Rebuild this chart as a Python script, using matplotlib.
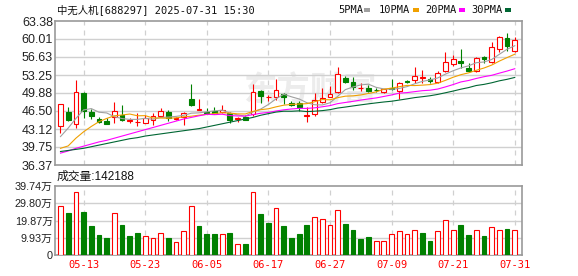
import matplotlib
matplotlib.use('Agg')
import matplotlib.pyplot as plt
from matplotlib.patches import Rectangle
import numpy as np

# ---------------- data ----------------
dates = ['05-08', '05-09', '05-12', '05-13', '05-14', '05-15', '05-16', '05-19', '05-20', '05-21',
         '05-22', '05-23', '05-26', '05-27', '05-28', '05-29', '05-30', '06-03', '06-04', '06-05',
         '06-06', '06-09', '06-10', '06-11', '06-12', '06-13', '06-16', '06-17', '06-18', '06-19',
         '06-20', '06-23', '06-24', '06-25', '06-26', '06-27', '06-30', '07-01', '07-02', '07-03',
         '07-04', '07-07', '07-08', '07-09', '07-10', '07-11', '07-14', '07-15', '07-16', '07-17',
         '07-18', '07-21', '07-22', '07-23', '07-24', '07-25', '07-28', '07-29', '07-30', '07-31']

opens = [43.69, 46.25, 44.00, 49.94, 46.37, 45.00, 44.60, 45.30, 45.75, 44.60,
         44.40, 44.30, 44.80, 45.60, 46.25, 44.95, 45.44, 48.75, 46.70, 46.40,
         46.56, 46.37, 46.10, 45.00, 45.44, 45.87, 50.25, 49.05, 49.19, 49.63,
         48.06, 47.94, 45.60, 45.87, 48.25, 49.19, 50.00, 52.75, 52.00, 50.80,
         50.88, 50.50, 50.13, 50.80, 50.25, 52.20, 52.30, 52.70, 52.50, 51.88,
         54.06, 55.30, 55.88, 54.63, 54.06, 56.56, 55.75, 58.06, 60.13, 57.82]
highs = [47.81, 47.19, 52.31, 50.10, 46.80, 45.44, 45.10, 48.10, 47.60, 45.10,
         46.20, 45.75, 46.06, 47.00, 46.70, 45.30, 46.37, 51.56, 48.75, 47.00,
         47.30, 47.60, 46.40, 45.44, 45.75, 51.50, 50.44, 49.50, 52.50, 49.80,
         48.40, 48.40, 47.30, 49.80, 50.75, 51.10, 54.80, 53.06, 52.94, 51.70,
         51.38, 50.90, 50.70, 52.50, 51.90, 52.30, 54.70, 54.20, 52.80, 54.00,
         57.50, 57.00, 58.06, 55.44, 56.70, 56.80, 59.50, 60.63, 61.07, 60.44]
lows = [42.45, 44.62, 43.37, 45.20, 44.93, 44.18, 44.00, 44.18, 44.70, 44.20,
        43.70, 44.20, 43.90, 45.30, 44.70, 44.80, 43.87, 47.50, 46.60, 45.95,
        45.90, 46.06, 44.20, 44.50, 44.80, 45.60, 48.06, 48.40, 48.56, 47.75,
        47.44, 46.50, 44.50, 45.60, 47.94, 49.06, 49.80, 51.80, 50.44, 50.25,
        50.00, 50.10, 49.90, 50.44, 48.69, 51.80, 51.70, 51.70, 51.70, 51.70,
        53.90, 54.90, 54.50, 53.88, 53.88, 55.44, 55.44, 57.63, 57.82, 57.50]
closes = [47.81, 44.81, 50.00, 46.56, 45.56, 44.43, 44.10, 46.50, 44.80, 44.75,
          44.50, 45.10, 45.60, 46.50, 45.12, 45.15, 46.06, 47.60, 46.80, 46.10,
          46.06, 46.70, 44.90, 45.10, 44.90, 50.00, 49.38, 49.20, 50.44, 49.19,
          47.60, 47.31, 45.70, 48.56, 49.00, 49.63, 53.38, 52.00, 51.05, 50.90,
          50.30, 50.40, 50.57, 50.70, 51.69, 52.00, 53.06, 52.80, 52.10, 53.56,
          55.60, 56.19, 55.44, 54.06, 56.50, 56.25, 58.56, 60.32, 58.75, 59.82]
volumes = [28.4, 24.0, 36.3, 25.0, 16.5, 11.4, 9.8, 24.0, 17.0, 10.8,
           12.7, 10.8, 9.6, 12.5, 9.8, 7.4, 13.6, 28.4, 16.5, 11.9,
           11.9, 11.9, 12.7, 6.2, 6.2, 36.3, 23.5, 18.4, 27.2, 16.5,
           9.8, 11.9, 17.0, 22.1, 20.8, 17.0, 25.9, 17.6, 14.2, 9.1,
           10.2, 7.9, 7.9, 12.3, 13.6, 12.3, 14.6, 12.5, 7.9, 14.0,
           20.2, 14.6, 17.0, 11.4, 14.6, 10.8, 16.3, 14.6, 14.8, 14.2188]

ma5 = [41.70, 43.30, 45.10, 46.70, 46.95, 46.27, 46.13, 45.43, 45.08, 44.92,
       44.93, 45.13, 44.95, 45.29, 45.36, 45.49, 45.69, 46.09, 46.15, 46.34,
       46.52, 46.65, 46.11, 45.77, 45.53, 46.32, 46.86, 47.72, 48.78, 49.64,
       49.16, 48.75, 48.05, 47.67, 47.63, 48.04, 49.25, 50.51, 51.01, 51.39,
       51.53, 50.93, 50.64, 50.57, 50.73, 51.07, 51.60, 52.05, 52.33, 52.70,
       53.42, 54.05, 54.58, 54.97, 55.56, 55.69, 56.16, 57.14, 58.08, 58.74]
ma10 = [39.50, 39.95, 41.40, 42.60, 43.60, 44.50, 45.10, 45.60, 45.75, 45.93,
        45.60, 45.63, 45.19, 45.18, 45.14, 45.21, 45.41, 45.52, 45.72, 45.85,
        46.01, 46.17, 46.10, 45.96, 45.94, 46.42, 46.75, 46.91, 47.28, 47.59,
        47.74, 47.80, 47.88, 48.23, 48.64, 48.60, 49.00, 49.28, 49.34, 49.51,
        49.78, 50.09, 50.58, 50.79, 51.06, 51.30, 51.27, 51.35, 51.45, 51.72,
        52.25, 52.83, 53.31, 53.65, 54.13, 54.56, 55.11, 55.86, 56.52, 57.15]
ma20 = [38.60, 39.00, 39.50, 39.90, 40.30, 40.70, 41.00, 41.40, 41.80, 42.20,
        42.60, 43.00, 43.40, 43.80, 44.20, 44.60, 45.00, 45.30, 45.60, 45.89,
        45.81, 45.90, 45.64, 45.57, 45.54, 45.82, 46.08, 46.22, 46.50, 46.72,
        46.88, 46.99, 46.99, 47.09, 47.29, 47.51, 47.88, 48.10, 48.31, 48.55,
        48.76, 48.95, 49.23, 49.51, 49.85, 49.95, 50.13, 50.31, 50.40, 50.62,
        51.02, 51.46, 51.95, 52.22, 52.60, 52.93, 53.19, 53.60, 53.99, 54.43]
ma30 = [38.90, 39.10, 39.30, 39.50, 39.80, 40.10, 40.40, 40.70, 41.00, 41.30,
        41.50, 41.80, 42.00, 42.20, 42.40, 42.60, 42.80, 43.00, 43.20, 43.50,
        43.80, 44.10, 44.40, 44.70, 45.00, 45.30, 45.70, 46.00, 46.30, 46.46,
        46.45, 46.53, 46.39, 46.46, 46.57, 46.75, 47.05, 47.24, 47.45, 47.65,
        47.84, 48.02, 48.19, 48.33, 48.55, 48.77, 49.01, 49.18, 49.36, 49.61,
        49.92, 50.24, 50.59, 50.89, 51.28, 51.49, 51.79, 52.16, 52.44, 52.79]

price_ticks = [36.37, 39.75, 43.12, 46.50, 49.88, 53.25, 56.63, 60.01, 63.38]
price_tick_labels = ['36.37', '39.75', '43.12', '46.50', '49.88', '53.25', '56.63', '60.01', '63.38']
vol_ticks = [0, 9.93, 19.87, 29.80, 39.74]
vol_tick_labels = ['0', '9.93万', '19.87万', '29.80万', '39.74万']
label_idx = [3, 11, 19, 27, 35, 43, 51, 59]
title_text = '中无人机[688297] 2025-07-31 15:30'
vol_title = '成交量:142188'
ma_names = ['5PMA', '10PMA', '20PMA', '30PMA']
watermark = '东方财富'

# ---------------- style ----------------
RED = '#ff0000'
GREEN = '#008000'
MA_COLORS = ['#a0a0a0', '#f0a000', '#ff00ff', '#006633']
GRID = '#d0d0d0'
FRAME = '#999999'
TXT = '#222222'
MONO = ['DejaVu Sans Mono', 'Noto Sans CJK SC']
SANS = ['Liberation Sans', 'Noto Sans CJK SC']
LW = 0.8

W, H = 578, 276
fig = plt.figure(figsize=(W / 100, H / 100), dpi=100)
fig.patch.set_facecolor('white')


def rect(l, t, r, b):
    return [l / W, 1 - b / H, (r - l) / W, (b - t) / H]


ax = fig.add_axes(rect(55, 21, 522, 165))
axv = fig.add_axes(rect(55, 186, 522, 255))

x = np.arange(len(closes))
o = np.array(opens)
c = np.array(closes)
hi = np.array(highs)
lo = np.array(lows)
up = c >= o
cols = [RED if u else GREEN for u in up]

XL = (-0.714, 59.94)

for a in (ax, axv):
    a.set_xlim(*XL)
    for s in a.spines.values():
        s.set_color(FRAME)
        s.set_linewidth(1.2)
    a.tick_params(length=0)
    for i in label_idx:
        a.axvline(i, color=GRID, lw=0.9, ls=(0, (4, 4)), zorder=0)

# watermark
ax.text(0.545, 0.515, watermark, transform=ax.transAxes, ha='center', va='center',
        fontsize=24, color='#ececec', family=['Noto Sans CJK SC'], fontweight='bold', zorder=0)

# price grid
ax.set_ylim(price_ticks[0], price_ticks[-1])
for t in price_ticks[1:-1]:
    ax.axhline(t, color=GRID, lw=1.0, zorder=0)

# candles
ax.vlines(x, lo, hi, colors=cols, lw=LW, zorder=2)
bottoms = np.minimum(o, c)
heights = np.maximum(np.abs(c - o), 0.03)
ax.bar(x, heights, bottom=bottoms, width=0.62,
       color=['white' if u else GREEN for u in up], edgecolor=cols, linewidth=LW, zorder=3)

# moving averages
for ma, col in zip([ma5, ma10, ma20, ma30], MA_COLORS):
    ax.plot(x, ma, color=col, lw=LW, zorder=4)

ax.set_yticks(price_ticks)
ax.set_yticklabels(price_tick_labels, family=SANS, fontsize=9, color=TXT)
ax.tick_params(axis='y', pad=1.5)
ax.set_xticks([])

# volume
vup = [closes[0] >= opens[0]] + [closes[i] >= closes[i - 1] for i in range(1, len(closes))]
vcols = [RED if u else GREEN for u in vup]
axv.set_ylim(0, vol_ticks[-1])
for t in vol_ticks[1:-1]:
    axv.axhline(t, color=GRID, lw=1.0, zorder=0)
axv.bar(x, volumes, width=0.62, color=['white' if u else GREEN for u in vup],
        edgecolor=vcols, linewidth=LW, zorder=3)
axv.set_yticks(vol_ticks)
axv.set_yticklabels(vol_tick_labels, family=SANS, fontsize=7.8, color=TXT)
axv.tick_params(axis='y', pad=1.5)
axv.set_xticks(label_idx)
axv.set_xticklabels([dates[i] for i in label_idx], family=MONO, fontsize=7.5, color=RED)
axv.tick_params(axis='x', pad=3.5)

# title / legend
fig.text(57 / W, 1 - 10 / H, title_text, family=MONO, fontsize=7.5, color='#111111',
         ha='left', va='center')
leg_x = [338, 379, 425, 471]
sq_x = [364.5, 412.5, 458.5, 504.5]
for name, lx, sx, col in zip(ma_names, leg_x, sq_x, MA_COLORS):
    fig.text(lx / W, 1 - 10 / H, name, family=MONO, fontsize=7.5, color='#111111',
             ha='left', va='center')
    fig.add_artist(Rectangle((sx / W, 1 - 12 / H), 6 / W, 4 / H, transform=fig.transFigure,
                             facecolor=col, edgecolor='none'))

fig.text(57 / W, 1 - 177 / H, vol_title, family=SANS, fontsize=8.5, color='#111111',
         ha='left', va='center')

fig.savefig('out.png', dpi=100, facecolor='white')
